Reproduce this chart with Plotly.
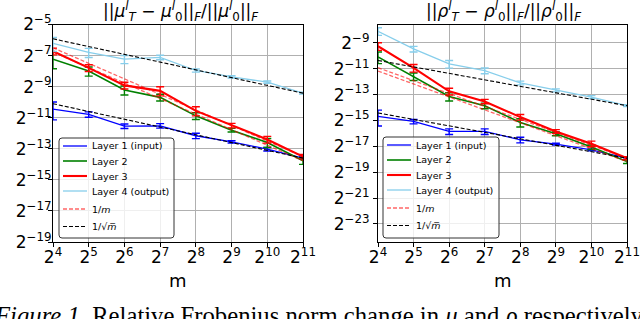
import numpy as np
import plotly.graph_objects as go

# ---------------- data (log2 of values) ----------------
m_vals = [16, 32, 64, 128, 256, 512, 1024, 2048]

# left panel: ||mu_T - mu_0||_F / ||mu_0||_F
mu_l1 = [-10.45, -10.79, -11.54, -11.52, -12.16, -12.55, -13.02, -13.60]
mu_l2 = [-7.23, -8.00, -9.22, -9.69, -10.88, -11.80, -12.60, -13.77]
mu_l3 = [-6.72, -7.79, -8.92, -9.27, -10.56, -11.50, -12.40, -13.50]
mu_l4 = [-6.22, -6.80, -7.23, -7.12, -7.96, -8.37, -8.71, -9.42]
mu_l1_err = [0.38, 0.12, 0.10, 0.10, 0.12, 0.05, 0.08, 0.05]
mu_l2_err = [0.35, 0.20, 0.20, 0.15, 0.15, 0.08, 0.20, 0.15]
mu_l3_err = [0.15, 0.15, 0.15, 0.20, 0.20, 0.10, 0.15, 0.10]
mu_l4_err = [0.30, 0.20, 0.18, 0.10, 0.07, 0.05, 0.05, 0.04]
# reference lines (log2 values at m=16 and m=2048)
mu_ref_m_l2 = [-6.77, -13.77]
mu_ref_m_l3 = [-6.50, -13.50]
mu_ref_sqrt_l1 = [-10.10, -13.60]
mu_ref_sqrt_l4 = [-5.92, -9.42]

# right panel: ||rho_T - rho_0||_F / ||rho_0||_F
rho_l1 = [-14.69, -15.08, -15.85, -15.85, -16.50, -16.83, -17.27, -17.92]
rho_l2 = [-10.09, -11.59, -13.14, -13.86, -15.15, -16.03, -17.06, -18.18]
rho_l3 = [-9.26, -10.94, -12.75, -13.53, -14.74, -15.85, -16.80, -17.92]
rho_l4 = [-8.10, -9.47, -10.63, -11.15, -12.10, -12.67, -13.19, -13.86]
rho_l1_err = [0.40, 0.12, 0.15, 0.15, 0.15, 0.05, 0.05, 0.05]
rho_l2_err = [0.30, 0.20, 0.22, 0.15, 0.22, 0.10, 0.12, 0.10]
rho_l3_err = [0.20, 0.20, 0.18, 0.12, 0.15, 0.10, 0.15, 0.08]
rho_l4_err = [0.20, 0.15, 0.20, 0.15, 0.10, 0.08, 0.08, 0.05]
rho_ref_m_l2 = [-11.18, -18.18]
rho_ref_m_l3 = [-10.92, -17.92]
rho_ref_sqrt_l1 = [-14.42, -17.92]
rho_ref_sqrt_l4 = [-10.36, -13.86]

x_tick_exp = [4, 5, 6, 7, 8, 9, 10, 11]
left_y_tick_exp = [-5, -7, -9, -11, -13, -15, -17, -19]
right_y_tick_exp = [-9, -11, -13, -15, -17, -19, -21, -23]
left_y_range_exp = [-19, -5]
right_y_range_exp = [-24.4, -7.58]

layer_names = ["Layer 1 (input)", "Layer 2", "Layer 3", "Layer 4 (output)"]
ref_names = ["1/<i>m</i>", "1/√<i>m̅</i>"]
layer_colors = ["#0000ff", "#008000", "#ff0000", "#87ceeb"]
layer_widths = [1.3, 1.6, 2.1, 1.3]
ref_colors = ["rgba(255,0,0,0.6)", "black"]

# ---------------- figure ----------------
W, H = 640, 319
fig = go.Figure()

def px_x(px):
    return px / W

def px_y(px):
    return 1 - px / H

def add_panel(xa, ya, layers, errs, refs_m, refs_sqrt):
    for i, (vals, er) in enumerate(zip(layers, errs)):
        y = 2.0 ** np.array(vals)
        fig.add_trace(go.Scatter(
            x=m_vals, y=y, mode="lines", name=layer_names[i],
            line=dict(color=layer_colors[i], width=layer_widths[i]),
            error_y=dict(type="data", array=y * np.array(er), visible=True,
                         color=layer_colors[i], thickness=1.4, width=4),
            xaxis=xa, yaxis=ya, showlegend=False,
        ))
    for r in refs_m:
        fig.add_trace(go.Scatter(
            x=[m_vals[0], m_vals[-1]], y=2.0 ** np.array(r), mode="lines",
            name=ref_names[0], showlegend=False,
            line=dict(color=ref_colors[0], width=1.3, dash="4px,2px"),
            xaxis=xa, yaxis=ya,
        ))
    for r in refs_sqrt:
        fig.add_trace(go.Scatter(
            x=[m_vals[0], m_vals[-1]], y=2.0 ** np.array(r), mode="lines",
            name=ref_names[1], showlegend=False,
            line=dict(color=ref_colors[1], width=1.1, dash="4px,2px"),
            xaxis=xa, yaxis=ya,
        ))

add_panel("x", "y",
          [mu_l1, mu_l2, mu_l3, mu_l4],
          [mu_l1_err, mu_l2_err, mu_l3_err, mu_l4_err],
          [mu_ref_m_l2, mu_ref_m_l3], [mu_ref_sqrt_l1, mu_ref_sqrt_l4])
add_panel("x2", "y2",
          [rho_l1, rho_l2, rho_l3, rho_l4],
          [rho_l1_err, rho_l2_err, rho_l3_err, rho_l4_err],
          [rho_ref_m_l2, rho_ref_m_l3], [rho_ref_sqrt_l1, rho_ref_sqrt_l4])

tickfont = dict(family="DejaVu Sans", size=17, color="black")
L2 = np.log10(2)

def xaxis(dom, anchor):
    return dict(type="log", domain=dom, range=[4 * L2, 11 * L2],
                tickvals=[2.0 ** k for k in x_tick_exp],
                ticktext=[f"2<sup>{k}</sup>" for k in x_tick_exp],
                tickfont=tickfont, ticks="outside", ticklen=4, tickcolor="black",
                ticklabelstandoff=-4, automargin=False,
                showgrid=True, gridcolor="#b0b0b0", gridwidth=1,
                showline=True, linecolor="black", linewidth=1, mirror=True,
                zeroline=False, anchor=anchor)

def yaxis(rng, ticks, anchor, standoff):
    return dict(type="log", domain=[px_y(242), px_y(24.5)],
                range=[rng[0] * L2, rng[1] * L2],
                tickvals=[2.0 ** k for k in ticks],
                ticktext=[f"2<sup>{str(k).replace('-', '−')}</sup>" for k in ticks],
                tickfont=tickfont, ticks="outside", ticklen=4, tickcolor="black",
                ticklabelstandoff=standoff, automargin=False,
                showgrid=True, gridcolor="#b0b0b0", gridwidth=1,
                showline=True, linecolor="black", linewidth=1, mirror=True,
                zeroline=False, anchor=anchor)

x1dom = [53 / W, 303 / W]
x2dom = [378 / W, 627 / W]

fig.update_layout(
    width=W, height=H, margin=dict(l=0, r=0, t=0, b=0, autoexpand=False),
    paper_bgcolor="white", plot_bgcolor="white", showlegend=False,
    xaxis=xaxis(x1dom, "y"),
    yaxis=yaxis(left_y_range_exp, left_y_tick_exp, "x", -7),
    xaxis2=xaxis(x2dom, "y2"),
    yaxis2=yaxis(right_y_range_exp, right_y_tick_exp, "x2", 0),
)

# ---------------- hand-drawn legends (matplotlib-style, compact) ----------------
def rounded_rect(x0, y0, x1, y1, r=3):
    X0, X1 = px_x(x0), px_x(x1)
    Y0, Y1 = px_y(y0), px_y(y1)
    rx, ry = r / W, r / H
    return (f"M{X0+rx},{Y0} L{X1-rx},{Y0} Q{X1},{Y0} {X1},{Y0-ry} "
            f"L{X1},{Y1+ry} Q{X1},{Y1} {X1-rx},{Y1} L{X0+rx},{Y1} "
            f"Q{X0},{Y1} {X0},{Y1+ry} L{X0},{Y0-ry} Q{X0},{Y0} {X0+rx},{Y0} Z")

entry_offsets = [8, 23, 38, 53, 71, 88.5]

def add_legend(bx0, by0, bx1, by1):
    fig.add_shape(type="path", path=rounded_rect(bx0, by0, bx1, by1),
                  xref="paper", yref="paper", layer="above",
                  fillcolor="rgba(255,255,255,0.8)",
                  line=dict(color="#333333", width=1))
    entries = []
    for i in range(4):
        entries.append((layer_names[i], layer_colors[i], layer_widths[i], "solid"))
    entries.append((ref_names[0], ref_colors[0], 1.5, "dash"))
    entries.append((ref_names[1], ref_colors[1], 1.2, "dash"))
    for (name, col, lw, dash), off in zip(entries, entry_offsets):
        yc = by0 + off
        fig.add_shape(type="line", xref="paper", yref="paper", layer="above",
                      x0=px_x(bx0 + 4), x1=px_x(bx0 + 28),
                      y0=px_y(yc), y1=px_y(yc),
                      line=dict(color=col, width=lw,
                                dash="4px,2px" if dash == "dash" else "solid"))
        fig.add_annotation(text=name, xref="paper", yref="paper",
                           x=px_x(bx0 + 31), y=px_y(yc), xanchor="left",
                           yanchor="middle", showarrow=False,
                           font=dict(family="DejaVu Sans", size=9.5, color="black"))

add_legend(59, 138, 174, 238)
add_legend(383, 137, 499, 238)

# ---------------- titles, axis labels, caption ----------------
title_font = dict(family="DejaVu Sans", size=17, color="black")
fig.add_annotation(
    text="||<i>μ</i><sup><i>l</i></sup><sub><i>T</i></sub> − <i>μ</i><sup><i>l</i></sup><sub>0</sub>||<sub><i>F</i></sub>/||<i>μ</i><sup><i>l</i></sup><sub>0</sub>||<sub><i>F</i></sub>",
    xref="paper", yref="paper", x=px_x(180), y=px_y(12),
    xanchor="center", yanchor="middle", showarrow=False, font=title_font)
fig.add_annotation(
    text="||<i>ρ</i><sup><i>l</i></sup><sub><i>T</i></sub> − <i>ρ</i><sup><i>l</i></sup><sub>0</sub>||<sub><i>F</i></sub>/||<i>ρ</i><sup><i>l</i></sup><sub>0</sub>||<sub><i>F</i></sub>",
    xref="paper", yref="paper", x=px_x(503), y=px_y(12),
    xanchor="center", yanchor="middle", showarrow=False, font=title_font)

for dom in (x1dom, x2dom):
    fig.add_annotation(text="m", xref="paper", yref="paper",
                       x=(dom[0] + dom[1]) / 2, y=px_y(280), xanchor="center",
                       yanchor="middle", showarrow=False,
                       font=dict(family="DejaVu Sans", size=18, color="black"))

fig.add_annotation(
    text="<i>Figure 1.</i> Relative Frobenius norm change in <i>μ</i> and <i>ρ</i> respectively.",
    xref="paper", yref="paper", x=px_x(321), y=px_y(315), xanchor="center",
    yanchor="middle", showarrow=False,
    font=dict(family="Liberation Serif", size=24.7, color="black"))

fig.write_html("out.html",
               config={"displayModeBar": False},
               post_script="document.body.style.margin='0';"
                           "document.body.style.overflow='hidden';")
